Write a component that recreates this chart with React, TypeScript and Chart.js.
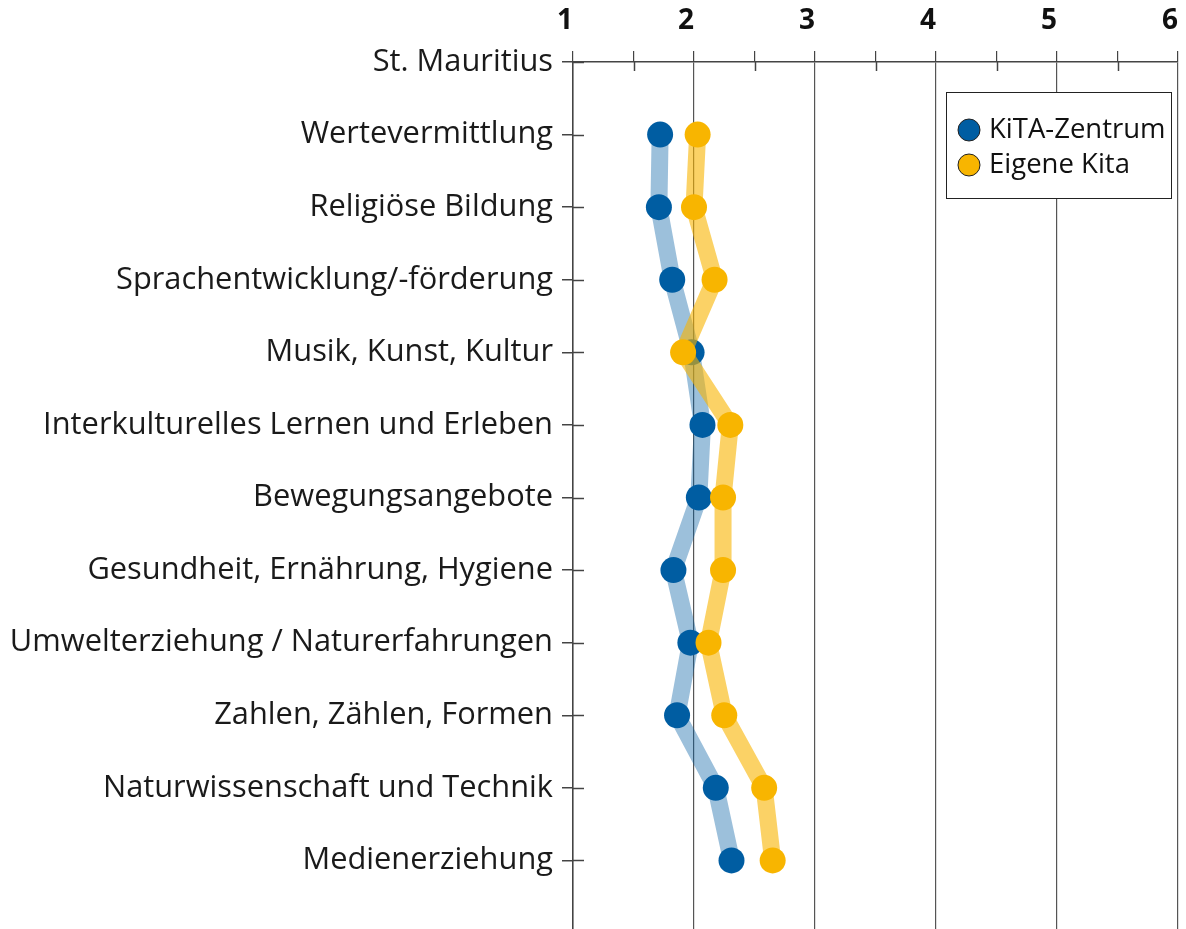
import React, { useEffect, useRef } from "react";
import { Chart, registerables } from "chart.js";

Chart.register(...registerables);

const categories = [
  "St. Mauritius",
  "Wertevermittlung",
  "Religiöse Bildung",
  "Sprachentwicklung/-förderung",
  "Musik, Kunst, Kultur",
  "Interkulturelles Lernen und Erleben",
  "Bewegungsangebote",
  "Gesundheit, Ernährung, Hygiene",
  "Umwelterziehung / Naturerfahrungen",
  "Zahlen, Zählen, Formen",
  "Naturwissenschaft und Technik",
  "Medienerziehung",
  "",
];

const kitaZentrum = [null, 1.72, 1.71, 1.82, 1.98, 2.07, 2.04, 1.83, 1.97, 1.86, 2.18, 2.31, null];
const eigeneKita = [null, 2.03, 2.0, 2.17, 1.91, 2.3, 2.24, 2.24, 2.12, 2.25, 2.58, 2.65, null];

const seriesNames = ["KiTA-Zentrum", "Eigene Kita"];
const xMin = 1;
const xMax = 6;

const FONT = "'Open Sans', 'Noto Sans', sans-serif";
const AXIS = "#444";

const extrasPlugin = {
  id: "extras",
  afterDraw(chart: any) {
    const ctx = chart.ctx;
    const xs = chart.scales.x;
    const ys = chart.scales.y;
    const area = chart.chartArea;
    ctx.save();
    ctx.strokeStyle = AXIS;
    ctx.lineWidth = 1.5;
    // minor ticks extend below top axis
    xs.ticks.forEach((t: any, i: number) => {
      if (!Number.isInteger(t.value)) {
        const px = Math.round(xs.getPixelForTick(i)) + 0.5;
        ctx.beginPath();
        ctx.moveTo(px, area.top);
        ctx.lineTo(px, area.top + 9);
        ctx.stroke();
      }
    });
    // y tick stubs inside chart area
    ys.ticks.forEach((_t: any, i: number) => {
      const py = Math.round(ys.getPixelForTick(i)) + 0.5;
      ctx.beginPath();
      ctx.moveTo(area.left, py);
      ctx.lineTo(area.left + 11, py);
      ctx.stroke();
    });
    // legend box
    const bx = area.right - 232;
    const by = area.top + 30;
    const bw = 225;
    const bh = 106;
    ctx.fillStyle = "#fff";
    ctx.fillRect(bx, by, bw, bh);
    ctx.strokeStyle = "#222";
    ctx.lineWidth = 1;
    ctx.strokeRect(bx + 0.5, by + 0.5, bw, bh);
    chart.data.datasets.forEach((ds: any, i: number) => {
      const cy = by + 38 + i * 35;
      const cx = bx + 23;
      ctx.beginPath();
      ctx.arc(cx, cy, 11, 0, Math.PI * 2);
      ctx.fillStyle = ds.pointBackgroundColor;
      ctx.fill();
      ctx.strokeStyle = "#222";
      ctx.lineWidth = 1;
      ctx.stroke();
      ctx.fillStyle = "#111";
      ctx.font = `27.5px ${FONT}`;
      ctx.textAlign = "left";
      ctx.textBaseline = "middle";
      ctx.fillText(ds.label, cx + 20, cy);
    });
    ctx.restore();
  },
};

export default function App() {
  const ref = useRef<HTMLCanvasElement>(null);

  useEffect(() => {
    document.body.style.margin = "0";
    const chart = new Chart(ref.current as HTMLCanvasElement, {
      type: "line",
      data: {
        labels: categories,
        datasets: [
          {
            label: seriesNames[0],
            data: kitaZentrum,
            order: 1,
            borderColor: "rgba(0,94,163,0.39)",
            borderWidth: 17,
            borderJoinStyle: "round",
            pointBackgroundColor: "#005da2",
            pointBorderWidth: 0,
            pointRadius: 13,
            pointHoverRadius: 13,
            tension: 0,
          },
          {
            label: seriesNames[1],
            data: eigeneKita,
            order: 0,
            borderColor: "rgba(248,180,0,0.6)",
            borderWidth: 17,
            borderJoinStyle: "round",
            pointBackgroundColor: "#f8b500",
            pointBorderWidth: 0,
            pointRadius: 13,
            pointHoverRadius: 13,
            tension: 0,
          },
        ],
      } as any,
      options: {
        indexAxis: "y",
        animation: false,
        responsive: false,
        devicePixelRatio: 1,
        layout: { autoPadding: false, padding: { left: 0, right: 8, top: 0, bottom: 0 } },
        plugins: {
          legend: { display: false },
          tooltip: { enabled: false },
        },
        scales: {
          x: {
            type: "linear",
            position: "top",
            min: xMin,
            max: xMax,
            afterFit: (s: any) => {
              s.height = 62;
              s.paddingLeft = 0;
              s.paddingRight = 0;
            },
            ticks: {
              stepSize: 0.5,
              autoSkip: false,
              maxRotation: 0,
              align: "end",
              padding: 13,
              color: "#111",
              font: { family: FONT, size: 28, weight: "bold" },
              callback: (v: any) => (Number.isInteger(v) ? String(v) : ""),
            },
            grid: {
              color: (c: any) => (c.tick && Number.isInteger(c.tick.value) ? "#555" : "rgba(0,0,0,0)"),
              tickColor: AXIS,
              tickLength: 11,
              lineWidth: 1.2,
            },
            border: { color: AXIS, width: 1.5 },
          },
          y: {
            type: "category",
            offset: false,
            afterFit: (s: any) => {
              s.width = 573;
              s.paddingTop = 0;
              s.paddingBottom = 0;
            },
            ticks: {
              autoSkip: false,
              padding: 9,
              color: "#1a1a1a",
              font: { family: FONT, size: 30.8 },
            },
            grid: {
              drawOnChartArea: false,
              tickLength: 11,
              color: AXIS,
              lineWidth: 1.5,
            },
            border: { color: AXIS, width: 1.5 },
          },
        },
      } as any,
      plugins: [extrasPlugin],
    });
    return () => chart.destroy();
  }, []);

  return (
    <div style={{ width: 1186, height: 929, overflow: "hidden" }}>
      <canvas ref={ref} width={1186} height={933} style={{ display: "block" }} />
    </div>
  );
}
